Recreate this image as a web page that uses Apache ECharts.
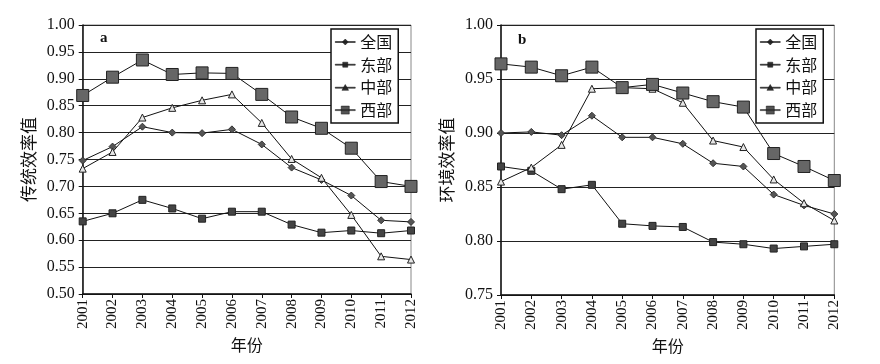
<!DOCTYPE html>
<html>
<head>
<meta charset="utf-8">
<script src="https://cdn.jsdelivr.net/npm/echarts@6/dist/echarts.min.js"></script>
<style>html,body{margin:0;padding:0;background:#fff}#c{width:880px;height:364px}</style>
</head>
<body>
<div id="c"></div>
<script>
const years = ['2001','2002','2003','2004','2005','2006','2007','2008','2009','2010','2011','2012'];
const seriesNames = ['全国','东部','中部','西部'];
// a: 传统效率值
const aNational = [0.748,0.774,0.811,0.800,0.799,0.806,0.778,0.735,0.712,0.683,0.637,0.634];
const aEast     = [0.635,0.650,0.675,0.659,0.640,0.653,0.653,0.629,0.614,0.618,0.613,0.618];
const aCentral  = [0.733,0.764,0.828,0.846,0.860,0.871,0.818,0.751,0.716,0.647,0.570,0.564];
const aWest     = [0.869,0.903,0.935,0.908,0.911,0.910,0.871,0.829,0.808,0.771,0.709,0.700];
// b: 环境效率值
const bNational = [0.900,0.901,0.898,0.916,0.896,0.896,0.890,0.872,0.869,0.843,0.833,0.825];
const bEast     = [0.869,0.865,0.848,0.852,0.816,0.814,0.813,0.799,0.797,0.793,0.795,0.797];
const bCentral  = [0.855,0.868,0.889,0.941,0.942,0.941,0.928,0.893,0.887,0.857,0.835,0.819];
const bWest     = [0.964,0.961,0.953,0.961,0.942,0.945,0.937,0.929,0.924,0.881,0.869,0.856];
const yTitles = ['传统效率值','环境效率值'];
const xTitle = '年份';
const panelLabels = ['a','b'];

const serif = '"Liberation Serif","DejaVu Serif",serif';
const cjk = '"Noto Sans CJK SC",sans-serif';
const styles = [
  {symbol:'diamond', symbolSize:7, itemStyle:{color:'#555',borderColor:'#333',borderWidth:1}},
  {symbol:'rect', symbolSize:7, itemStyle:{color:'#444',borderColor:'#222',borderWidth:1}},
  {symbol:'triangle', symbolSize:7, itemStyle:{color:'#e6e6e6',borderColor:'#222',borderWidth:1}},
  {symbol:'rect', symbolSize:12, itemStyle:{color:'#666',borderColor:'#222',borderWidth:1}}
];
const LINE = 'M0,4.5 L20,4.5 L20,5.5 L0,5.5 Z ';
const legendIcons = [
  'path://' + LINE + 'M7,5 L10,2 L13,5 L10,8 Z',
  'path://' + LINE + 'M7.5,2.5 L12.5,2.5 L12.5,7.5 L7.5,7.5 Z',
  'path://' + LINE + 'M10,1.8 L13.3,7.6 L6.7,7.6 Z',
  'path://' + LINE + 'M6,1 L14,1 L14,9 L6,9 Z'
];
const legendColors = ['#333','#333','#333','#555'];
const dataA = [aNational,aEast,aCentral,aWest];
const dataB = [bNational,bEast,bCentral,bWest];

function mkSeries(data, idx){
  return data.map((d,i)=>({
    name: seriesNames[i], type:'line', xAxisIndex:idx, yAxisIndex:idx,
    data:d, symbol:styles[i].symbol, symbolSize:styles[i].symbolSize,
    showSymbol:true, animation:false, z: 3+i,
    lineStyle:{color:'#111',width:1},
    itemStyle:styles[i].itemStyle
  }));
}
function mkX(idx){
  return {type:'category', gridIndex:idx, data:years, boundaryGap:false,
    name:xTitle, nameLocation:'middle', nameGap:43,
    nameTextStyle:{fontFamily:cjk, fontSize:16, color:'#111'},
    axisLine:{lineStyle:{color:'#111',width:1.5}},
    axisTick:{show:true,length:4,lineStyle:{color:'#111'}},
    axisLabel:{rotate:90, fontFamily:serif, fontSize:15, color:'#111', margin:5, interval:0},
    splitLine:{show:false}};
}
function mkY(idx,min){
  return {type:'value', gridIndex:idx, min:min, max:1.0, interval:0.05,
    name:yTitles[idx], nameLocation:'middle', nameGap:46, nameRotate:90,
    nameTextStyle:{fontFamily:cjk, fontSize:17, color:'#111'},
    axisLine:{show:true,lineStyle:{color:'#111',width:1.5}},
    axisTick:{show:true,length:4,lineStyle:{color:'#111'}},
    axisLabel:{fontFamily:serif, fontSize:16, color:'#111', margin:8, formatter:v=>v.toFixed(2)},
    splitLine:{show:true,lineStyle:{color:'#222',width:1}}};
}
function mkLegend(left){
  return {orient:'vertical', left:left, top:29,
    data:seriesNames.map((n,i)=>({name:n, icon:legendIcons[i], itemStyle:{color:legendColors[i],borderColor:'#111',borderWidth:0.5}})),
    backgroundColor:'#fff', borderColor:'#111', borderWidth:1.5, padding:[5,6,5,4],
    itemWidth:20, itemHeight:10, itemGap:6.7, symbolKeepAspect:true,
    textStyle:{fontFamily:cjk, fontSize:16, lineHeight:14, color:'#111'}, selectedMode:false};
}
const chart = echarts.init(document.getElementById('c'), null, {renderer:'canvas'});
chart.setOption({
  animation:false,
  backgroundColor:'#fff',
  grid:[
    {left:82.7, right:469, top:25, bottom:70, show:true, borderColor:'#888', borderWidth:1, backgroundColor:'transparent'},
    {left:501, right:45.7, top:25, bottom:69, show:true, borderColor:'#888', borderWidth:1, backgroundColor:'transparent'}
  ],
  xAxis:[mkX(0), mkX(1)],
  yAxis:[mkY(0,0.50), mkY(1,0.75)],
  legend:[mkLegend(331), mkLegend(756)],
  title:[
    {text:panelLabels[0], left:95, top:26, textStyle:{fontFamily:serif,fontSize:15,fontWeight:'bold',color:'#111'}},
    {text:panelLabels[1], left:513, top:28, textStyle:{fontFamily:serif,fontSize:15,fontWeight:'bold',color:'#111'}}
  ],
  series:[...mkSeries(dataA,0), ...mkSeries(dataB,1)]
});
</script>
</body>
</html>
